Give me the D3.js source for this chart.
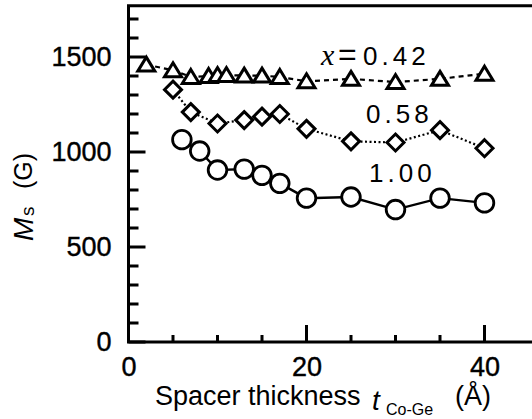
<!DOCTYPE html>
<html>
<head>
<meta charset="utf-8">
<script src="https://cdn.jsdelivr.net/npm/d3@7"></script>
<style>
  body { margin: 0; background: #fff; }
  text { font-family: "Liberation Sans", Arial, sans-serif; fill: #000; }
</style>
</head>
<body>
<div id="chart"></div>
<script>
// Ms vs spacer thickness, three Co-Ge compositions
var thick_042 = [ 2, 5, 7, 9, 10, 11, 13, 15, 17, 20, 25, 30, 35, 40 ];
var ms_042    = [ 1460, 1430, 1395, 1400, 1405, 1405, 1402, 1402, 1395, 1372, 1385, 1368, 1385, 1412 ];

var thick_058 = [ 5, 7, 10, 13, 15, 17, 20, 25, 30, 35, 40 ];
var ms_058    = [ 1328, 1210, 1150, 1168, 1186, 1200, 1122, 1056, 1050, 1115, 1020 ];

var thick_100 = [ 6, 8, 10, 13, 15, 17, 20, 25, 30, 35, 40 ];
var ms_100    = [ 1065, 1005, 905, 910, 877, 835, 757, 763, 697, 757, 732 ];

var x_major = [ 0, 20, 40 ];
var x_minor = [ 5, 10, 15, 25, 30, 35 ];
var y_major = [ 0, 500, 1000, 1500 ];
var y_minor = [ 100, 200, 300, 400, 600, 700, 800, 900, 1100, 1200, 1300, 1400, 1600, 1700 ];

var chart_width  = 532;
var chart_height = 419;

var x = d3.scaleLinear().domain( [ 0, 46 ] ).range( [ 128.5, 128.5 + 46 * 8.9 ] );
var y = d3.scaleLinear().domain( [ 0, 1770 ] ).range( [ 342, 5.7 ] );

var svg = d3.select( '#chart' )
    .append( 'svg' )
    .attr( 'width', chart_width )
    .attr( 'height', chart_height );

// tick labels from the axis generators
svg.append( 'g' )
    .attr( 'transform', 'translate(' + x( 0 ) + ',0)' )
    .call( d3.axisLeft( y ).tickValues( y_major ).tickSize( 0 ).tickPadding( 17 ).tickFormat( d3.format( 'd' ) ) );
svg.append( 'g' )
    .attr( 'transform', 'translate(0,' + y( 0 ) + ')' )
    .call( d3.axisBottom( x ).tickValues( x_major ).tickSize( 0 ).tickPadding( 15 ).tickFormat( d3.format( 'd' ) ) );

svg.selectAll( '.domain' ).remove();
svg.selectAll( '.tick line' ).remove();
svg.selectAll( '.tick text' )
    .attr( 'font-size', 27 )
    .attr( 'font-family', '"Liberation Sans", Arial, sans-serif' )
    .attr( 'fill', '#000' )
    .attr( 'stroke', '#000' )
    .attr( 'stroke-width', 0.4 );

// frame lines
svg.append( 'path' )
    .attr( 'd', 'M' + x( 46 ) + ',' + y( 1770 ) + 'H' + x( 0 ) + 'V' + y( 0 ) + 'H' + x( 46 ) )
    .attr( 'fill', 'none' )
    .attr( 'stroke', '#000' )
    .attr( 'stroke-width', 3 );

// inward tick marks as filled rects
var tk = 3;
svg.selectAll( '.ytick' )
    .data( y_minor.map( function( d ){ return [ d, 10 ]; } ).concat( y_major.map( function( d ){ return [ d, 17 ]; } ) ) )
    .enter()
    .append( 'rect' )
    .attr( 'x', x( 0 ) )
    .attr( 'y', function( d ){ return y( d[ 0 ] ) - tk / 2; } )
    .attr( 'width', function( d ){ return d[ 1 ]; } )
    .attr( 'height', tk )
    .attr( 'fill', '#000' );
svg.selectAll( '.xtick' )
    .data( x_minor.map( function( d ){ return [ d, 7 ]; } ).concat( x_major.map( function( d ){ return [ d, 17 ]; } ) ) )
    .enter()
    .append( 'rect' )
    .attr( 'x', function( d ){ return x( d[ 0 ] ) - tk / 2; } )
    .attr( 'y', function( d ){ return y( 0 ) - d[ 1 ]; } )
    .attr( 'width', tk )
    .attr( 'height', function( d ){ return d[ 1 ]; } )
    .attr( 'fill', '#000' );

function pts( xs, ys ){
    return xs.map( function( d, i ){ return [ d, ys[ i ] ]; } );
}

var line = d3.line()
    .x( function( d ){ return x( d[ 0 ] ); } )
    .y( function( d ){ return y( d[ 1 ] ); } );

var s042 = pts( thick_042, ms_042 );
var s058 = pts( thick_058, ms_058 );
var s100 = pts( thick_100, ms_100 );

svg.append( 'path' ).datum( s042 )
    .attr( 'd', line ).attr( 'fill', 'none' ).attr( 'stroke', '#000' )
    .attr( 'stroke-width', 2.2 ).attr( 'stroke-dasharray', '5,4' );
svg.append( 'path' ).datum( s058 )
    .attr( 'd', line ).attr( 'fill', 'none' ).attr( 'stroke', '#000' )
    .attr( 'stroke-width', 2.2 ).attr( 'stroke-dasharray', '2,2.5' );
svg.append( 'path' ).datum( s100 )
    .attr( 'd', line ).attr( 'fill', 'none' ).attr( 'stroke', '#000' )
    .attr( 'stroke-width', 2.4 );

// markers
svg.selectAll( '.tri' ).data( s042 ).enter()
    .append( 'path' )
    .attr( 'd', 'M0,-7.5L8.5,6.5L-8.5,6.5Z' )
    .attr( 'transform', function( d ){ return 'translate(' + x( d[ 0 ] ) + ',' + y( d[ 1 ] ) + ')'; } )
    .attr( 'fill', '#fff' ).attr( 'stroke', '#000' ).attr( 'stroke-width', 3 );

svg.selectAll( '.dia' ).data( s058 ).enter()
    .append( 'path' )
    .attr( 'd', 'M0,-8.5L8.5,0L0,8.5L-8.5,0Z' )
    .attr( 'transform', function( d ){ return 'translate(' + x( d[ 0 ] ) + ',' + y( d[ 1 ] ) + ')'; } )
    .attr( 'fill', '#fff' ).attr( 'stroke', '#000' ).attr( 'stroke-width', 3 );

svg.selectAll( '.cir' ).data( s100 ).enter()
    .append( 'circle' )
    .attr( 'cx', function( d ){ return x( d[ 0 ] ); } )
    .attr( 'cy', function( d ){ return y( d[ 1 ] ); } )
    .attr( 'r', 9.3 )
    .attr( 'fill', '#fff' ).attr( 'stroke', '#000' ).attr( 'stroke-width', 2.8 );

// series labels
svg.append( 'text' ).text( 'x' )
    .attr( 'x', 321 ).attr( 'y', 65 )
    .attr( 'font-size', 30 ).attr( 'font-style', 'italic' )
    .style( 'font-family', '"Liberation Serif", "Times New Roman", serif' );
svg.append( 'text' ).text( '=' )
    .attr( 'x', 338 ).attr( 'y', 65 )
    .attr( 'font-size', 32 );
svg.append( 'text' ).text( '0.42' )
    .attr( 'x', 363 ).attr( 'y', 65 )
    .attr( 'font-size', 26 ).attr( 'letter-spacing', 4 );
svg.append( 'text' ).text( '0.58' )
    .attr( 'x', 366 ).attr( 'y', 123 )
    .attr( 'font-size', 26 ).attr( 'letter-spacing', 4 );
svg.append( 'text' ).text( '1.00' )
    .attr( 'x', 369 ).attr( 'y', 182 )
    .attr( 'font-size', 26 ).attr( 'letter-spacing', 4 );

// x axis title
svg.append( 'text' ).text( 'Spacer thickness' )
    .attr( 'x', 155 ).attr( 'y', 405 ).attr( 'font-size', 27 );
svg.append( 'text' ).text( 't' )
    .attr( 'x', 372 ).attr( 'y', 410 ).attr( 'font-size', 28 ).attr( 'font-style', 'italic' );
svg.append( 'text' ).text( 'Co-Ge' )
    .attr( 'x', 386 ).attr( 'y', 415 ).attr( 'font-size', 16 );
svg.append( 'text' ).text( '(Å)' )
    .attr( 'x', 455 ).attr( 'y', 405 ).attr( 'font-size', 27 );

// y axis title, rotated
var ylab = svg.append( 'g' ).attr( 'transform', 'translate(33,0) rotate(-90)' );
ylab.append( 'text' ).text( 'M' )
    .attr( 'x', -241 ).attr( 'y', 0 ).attr( 'font-size', 28 ).attr( 'font-style', 'italic' );
ylab.append( 'text' ).text( 's' )
    .attr( 'x', -216 ).attr( 'y', 1 ).attr( 'font-size', 19 );
ylab.append( 'text' ).text( '(G)' )
    .attr( 'x', -189 ).attr( 'y', -1 ).attr( 'font-size', 25 );
</script>
</body>
</html>
